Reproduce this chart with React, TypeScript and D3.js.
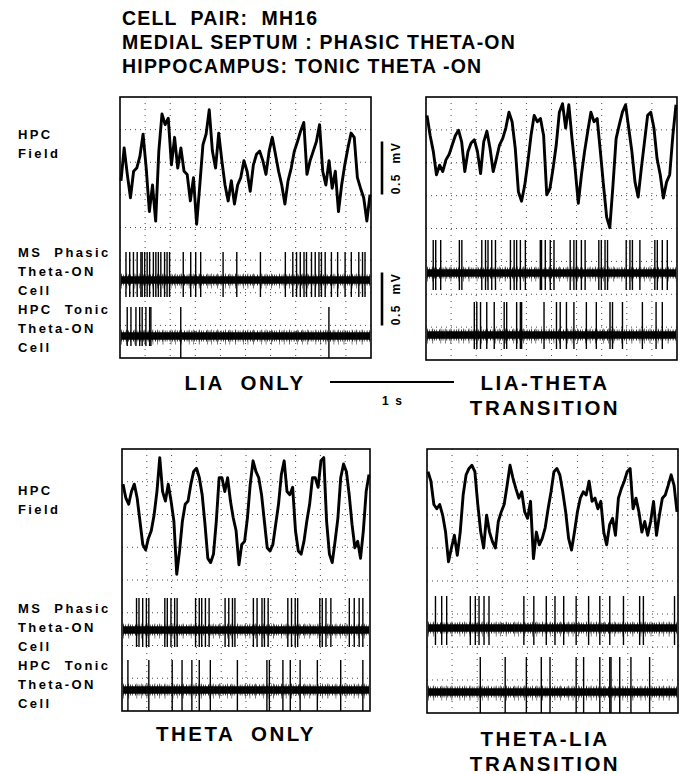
import * as d3 from 'd3'

// ── title + labels ───────────────────────────────────────────────────────────
const TITLE_LINES = ['CELL  PAIR:  MH16', 'MEDIAL SEPTUM : PHASIC THETA-ON', 'HIPPOCAMPUS: TONIC THETA -ON']
const ROW_LABELS = [['HPC', 'Field'], ['MS  Phasic', 'Theta-ON', 'Cell'], ['HPC  Tonic', 'Theta-ON', 'Cell']]

// ── HPC field potential (mV), evenly sampled over the 2 s sweep ──────────────
const liaField = [
  -0.13, 0.18, -0.07, -0.29, -0.04, -0.01, 0.10, 0.31, -0.01, -0.42, -0.17, -0.51, 0.15, 0.50, 0.40, 0.46,
  0.02, 0.28, -0.01, 0.18, -0.04, -0.07, -0.32, -0.10, -0.54, -0.17, 0.21, 0.31, 0.54, 0.15, -0.01, 0.32,
  0.06, -0.17, -0.32, -0.13, -0.35, -0.17, -0.10, 0.06, -0.04, -0.23, 0.02, 0.12, 0.15, 0.06, -0.07, 0.15,
  0.28, 0.12, -0.04, -0.17, -0.35, -0.13, -0.01, 0.15, 0.24, 0.34, 0.42, -0.07, 0.06, 0.15, 0.24, 0.40,
  -0.04, -0.17, 0.06, -0.20, -0.04, -0.42, -0.17, 0.02, 0.18, 0.32, 0.28, -0.10, -0.20, -0.29, -0.51, -0.26,
]
const liaThetaField = [
  0.44, 0.25, 0.10, -0.12, -0.03, -0.09, 0.02, 0.07, 0.16, 0.25, 0.30, 0.19, -0.09, 0.10, 0.18, 0.21,
  0.10, -0.11, 0.19, 0.29, 0.13, -0.09, 0.03, 0.16, 0.22, 0.32, 0.47, 0.38, 0.13, -0.28, -0.37, -0.22,
  0.00, 0.25, 0.44, 0.38, 0.41, 0.25, -0.31, -0.25, -0.06, 0.16, 0.47, 0.55, 0.32, 0.54, 0.22, -0.06,
  -0.39, -0.12, 0.10, 0.29, 0.47, 0.38, 0.41, 0.10, -0.22, -0.52, -0.62, -0.22, 0.22, 0.35, 0.47, 0.54,
  0.32, 0.10, -0.19, -0.33, -0.06, 0.19, 0.44, 0.47, 0.32, 0.03, -0.12, -0.34, -0.19, -0.12, 0.25, 0.54,
]
const thetaField = [
  0.31, 0.18, 0.12, 0.24, 0.31, 0.18, -0.04, -0.26, -0.31, -0.20, -0.13, 0.02, 0.24, 0.56, 0.24, 0.15,
  0.31, 0.15, -0.04, -0.54, -0.32, -0.04, 0.12, 0.15, 0.31, 0.43, 0.46, 0.37, 0.21, -0.07, -0.39, -0.43,
  -0.35, -0.04, 0.37, 0.37, 0.24, 0.37, 0.15, -0.01, -0.13, -0.45, -0.26, -0.23, -0.01, 0.31, 0.53, 0.43,
  0.37, 0.21, -0.04, -0.29, -0.32, -0.26, -0.07, 0.12, 0.40, 0.53, 0.24, 0.21, 0.28, -0.13, -0.32, -0.35,
  -0.23, -0.04, 0.12, 0.37, 0.37, 0.28, 0.53, 0.56, -0.04, -0.35, -0.43, -0.23, -0.01, 0.37, 0.50, 0.43,
  0.21, -0.07, -0.29, -0.23, -0.39, -0.13, 0.24, 0.40,
]
const thetaLiaField = [
  0.39, 0.30, 0.08, 0.04, 0.08, -0.02, -0.18, -0.46, -0.33, -0.21, -0.40, -0.18, 0.17, 0.36, 0.42, 0.45,
  0.39, 0.08, -0.18, -0.33, -0.02, -0.18, -0.27, -0.33, -0.08, 0.01, 0.08, 0.26, 0.45, 0.33, 0.23, 0.14,
  0.20, 0.01, -0.05, 0.11, -0.43, -0.18, -0.30, -0.24, -0.14, 0.04, 0.20, 0.39, 0.42, 0.36, 0.20, 0.01,
  -0.24, -0.35, -0.18, 0.01, 0.14, 0.20, 0.17, 0.30, 0.11, 0.14, 0.04, 0.11, -0.18, -0.30, -0.11, -0.05,
  -0.21, 0.14, 0.23, 0.30, 0.39, 0.42, 0.04, 0.14, 0.01, -0.18, -0.08, -0.21, -0.08, 0.11, -0.21, -0.02,
  0.14, 0.17, 0.26, 0.36, 0.26, 0.01,
]

// ── spike times (s) ──────────────────────────────────────────────────────────
const liaMs = [
  0.04, 0.07, 0.10, 0.13, 0.16, 0.17, 0.19, 0.21, 0.23, 0.26, 0.28, 0.30, 0.32, 0.35, 0.37, 0.39, 0.50, 0.56,
  0.60, 0.64, 0.82, 0.93, 1.12, 1.32, 1.38, 1.41, 1.44, 1.47, 1.49, 1.53, 1.56, 1.59, 1.61, 1.64, 1.69, 1.74,
  1.80, 1.85, 1.91, 1.94, 1.96,
]
const liaHpc = [0.05, 0.08, 0.12, 0.15, 0.17, 0.20, 0.23, 0.24]
const liaHpcLong = [0.48, 1.67]
const liaThetaMs = [
  0.05, 0.07, 0.11, 0.26, 0.28, 0.44, 0.47, 0.49, 0.52, 0.55, 0.67, 0.70, 0.72, 0.75, 0.79, 0.91, 0.92, 0.95,
  0.99, 1.02, 1.15, 1.18, 1.20, 1.24, 1.27, 1.38, 1.40, 1.43, 1.45, 1.60, 1.63, 1.65, 1.71, 1.83, 1.85, 1.89, 1.93,
]
const liaThetaHpc = [
  0.38, 0.40, 0.43, 0.48, 0.54, 0.62, 0.64, 0.72, 0.75, 0.76, 0.94, 1.04, 1.07, 1.12, 1.18, 1.28, 1.36, 1.47,
  1.49, 1.57, 1.73, 1.84, 1.89,
]
const thetaMs = [
  0.11, 0.13, 0.16, 0.19, 0.21, 0.34, 0.36, 0.39, 0.42, 0.44, 0.59, 0.62, 0.64, 0.67, 0.70, 0.83, 0.86, 0.89,
  0.91, 1.06, 1.09, 1.13, 1.15, 1.18, 1.34, 1.37, 1.40, 1.42, 1.60, 1.62, 1.65, 1.69, 1.84, 1.88, 1.92, 1.95,
]
const thetaHpc = [0.04, 0.21, 0.40, 0.48, 0.56, 0.62, 0.71, 0.93, 1.17, 1.19, 1.30, 1.36, 1.44, 1.58, 1.77, 1.95]
const thetaLiaMs = [
  0.06, 0.11, 0.15, 0.34, 0.38, 0.41, 0.45, 0.49, 0.77, 0.85, 0.95, 1.02, 1.09, 1.19, 1.29, 1.38, 1.46, 1.57,
  1.70, 1.73, 1.98,
]
const thetaLiaHpc = [0.42, 0.62, 0.79, 0.91, 0.98, 1.19, 1.25, 1.38, 1.46, 1.47, 1.54, 1.63, 1.78]

// ── layout ───────────────────────────────────────────────────────────────────
const W = 687
const H = 774
const FONT = '"Liberation Sans", Arial, Helvetica, sans-serif'
const PX_PER_MV = 106
const SWEEP = 2 // s

type Panel = {
  x0: number; x1: number; y0: number; y1: number
  field: number[]; ms: number[]; hpc: number[]; hpcLong: number[]
  fieldMid: number; msBase: number; hpcBase: number
  msUp: number; hpcUp: number; hpcDown: number
  label: string[]; labelX: number; labelY: number
}

const panels: Panel[] = [
  { x0: 120, x1: 371, y0: 97, y1: 358, field: liaField, ms: liaMs, hpc: liaHpc, hpcLong: liaHpcLong,
    fieldMid: 167, msBase: 280, hpcBase: 336, msUp: 28, hpcUp: 29, hpcDown: 10,
    label: ['LIA  ONLY'], labelX: 245, labelY: 390 },
  { x0: 426, x1: 677, y0: 97, y1: 360, field: liaThetaField, ms: liaThetaMs, hpc: liaThetaHpc, hpcLong: [],
    fieldMid: 162, msBase: 273, hpcBase: 335, msUp: 33, hpcUp: 33, hpcDown: 14,
    label: ['LIA-THETA', 'TRANSITION'], labelX: 545, labelY: 390 },
  { x0: 122, x1: 370, y0: 449, y1: 711, field: thetaField, ms: thetaMs, hpc: [], hpcLong: thetaHpc,
    fieldMid: 517, msBase: 630, hpcBase: 690, msUp: 32, hpcUp: 30, hpcDown: 12,
    label: ['THETA  ONLY'], labelX: 236, labelY: 741 },
  { x0: 427, x1: 678, y0: 449, y1: 713, field: thetaLiaField, ms: thetaLiaMs, hpc: [], hpcLong: thetaLiaHpc,
    fieldMid: 513, msBase: 628, hpcBase: 692, msUp: 32, hpcUp: 35, hpcDown: 12,
    label: ['THETA-LIA', 'TRANSITION'], labelX: 545, labelY: 746 },
]

// thick, ragged recording baseline of a unit channel
function Band({ a, b, base }: { a: number; b: number; base: number }) {
  return (
    <g>
      <line x1={a} x2={b} y1={base} y2={base} stroke="#000" strokeWidth={7.5} />
      <line x1={a} x2={b} y1={base} y2={base} stroke="#000" strokeWidth={11} strokeDasharray="0.7 1.3 0.6 2.2 0.8 1.7" />
      <line x1={a} x2={b} y1={base + 1} y2={base + 1} stroke="#111" strokeWidth={15} strokeDasharray="0.5 5 0.6 7.5 0.5 4" />
    </g>
  )
}

function Spikes({ times, x, y1, y2 }: { times: number[]; x: d3.ScaleLinear<number, number>; y1: number; y2: number }) {
  return (
    <g>
      {times.map((t, i) => (
        <line key={i} x1={x(t)} x2={x(t)} y1={y1} y2={y2} stroke="#000" strokeWidth={1.4} />
      ))}
    </g>
  )
}

function PanelView({ p }: { p: Panel }) {
  const x = d3.scaleLinear().domain([0, SWEEP]).range([p.x0 + 1, p.x1 - 1])
  const xi = d3.scaleLinear().domain([0, p.field.length - 1]).range([p.x0 + 1, p.x1 - 1])
  const y = d3.scaleLinear().domain([-1, 1]).range([p.fieldMid + PX_PER_MV, p.fieldMid - PX_PER_MV])
  const line = d3.line<number>().x((_, i) => xi(i)).y(v => y(v))
  const gx = d3.range(1, 10).map(i => p.x0 + ((p.x1 - p.x0) * i) / 10)
  const gy = d3.range(1, 8).map(i => p.y0 + ((p.y1 - p.y0) * i) / 8)
  return (
    <g>
      {gx.map((v, i) => (
        <line key={'gx' + i} x1={v} x2={v} y1={p.y0} y2={p.y1} stroke="#333" strokeWidth={0.9} strokeDasharray="1 5" />
      ))}
      {gy.map((v, i) => (
        <line key={'gy' + i} x1={p.x0} x2={p.x1} y1={v} y2={v} stroke="#333" strokeWidth={0.9} strokeDasharray="1 4" />
      ))}
      <path d={line(p.field) ?? ''} fill="none" stroke="#000" strokeWidth={2.9} strokeLinejoin="round" />
      <Band a={p.x0 + 1} b={p.x1 - 1} base={p.msBase} />
      <Spikes times={p.ms} x={x} y1={p.msBase - p.msUp} y2={p.msBase + 17} />
      <Band a={p.x0 + 1} b={p.x1 - 1} base={p.hpcBase} />
      <Spikes times={p.hpc} x={x} y1={p.hpcBase - p.hpcUp} y2={p.hpcBase + p.hpcDown} />
      <Spikes times={p.hpcLong} x={x} y1={p.hpcBase - p.hpcUp} y2={p.y1} />
      <rect x={p.x0} y={p.y0} width={p.x1 - p.x0} height={p.y1 - p.y0} fill="none" stroke="#000" strokeWidth={1.6} />
      {p.label.map((s, i) => (
        <text key={i} x={p.labelX} y={p.labelY + i * 25} textAnchor="middle" fontSize={20.5} fontWeight="bold"
          letterSpacing={2.5} fontFamily={FONT} style={{ whiteSpace: 'pre' }}>{s}</text>
      ))}
    </g>
  )
}

function RowLabels({ top }: { top: number }) {
  const starts = [top + 42, top + 160, top + 217]
  return (
    <g fontFamily={FONT} fontWeight="bold" fontSize={13} letterSpacing={2.4}>
      {ROW_LABELS.map((lines, r) =>
        lines.map((s, i) => (
          <text key={r + '-' + i} x={18} y={starts[r] + i * 19} style={{ whiteSpace: 'pre' }}>{s}</text>
        )),
      )}
    </g>
  )
}

export default function App() {
  const p1 = panels[0]
  const tx = d3.scaleLinear().domain([0, 1]).range([330, 454])
  const mv = d3.scaleLinear().domain([0, 0.5]).range([0, PX_PER_MV * 0.5])
  const bars = [{ mid: 168 }, { mid: 299 }]
  return (
    <div style={{ position: 'absolute', left: 0, top: 0 }}>
      <svg width={W} height={H} viewBox={`0 0 ${W} ${H}`} style={{ display: 'block', background: '#fff' }}>
        {TITLE_LINES.map((s, i) => (
          <text key={i} x={122} y={25 + i * 24} fontFamily={FONT} fontWeight="bold" fontSize={19.5} letterSpacing={1.2} style={{ whiteSpace: 'pre' }}>{s}</text>
        ))}
        <RowLabels top={97} />
        <RowLabels top={453} />
        {panels.map((p, i) => <PanelView key={i} p={p} />)}
        {/* amplitude scale bars */}
        {bars.map((b, i) => (
          <g key={i}>
            <line x1={p1.x1 + 11} x2={p1.x1 + 11} y1={b.mid - mv(0.5) / 2} y2={b.mid + mv(0.5) / 2} stroke="#000" strokeWidth={2.6} />
            <text transform={`translate(${p1.x1 + 29},${b.mid}) rotate(-90)`} textAnchor="middle" fontFamily={FONT} fontWeight="bold" fontSize={12} letterSpacing={1.5} style={{ whiteSpace: 'pre' }}>0.5  mV</text>
          </g>
        ))}
        {/* time scale bar */}
        <line x1={tx(0)} x2={tx(1)} y1={382} y2={382} stroke="#000" strokeWidth={2} />
        <text x={tx(0.5)} y={405} textAnchor="middle" fontFamily={FONT} fontWeight="bold" fontSize={12} style={{ whiteSpace: 'pre' }}>1  s</text>
      </svg>
    </div>
  )
}
